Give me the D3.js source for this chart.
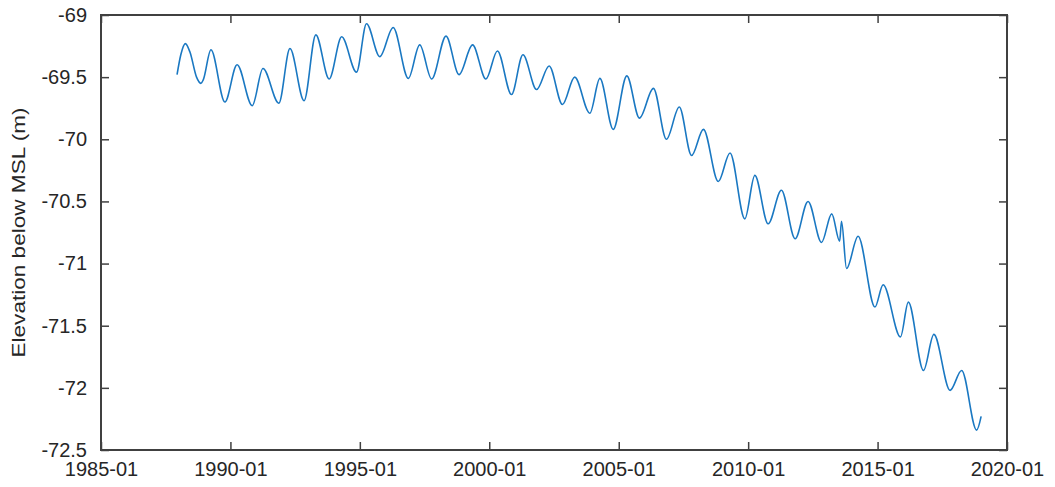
<!DOCTYPE html>
<html>
<head>
<meta charset="utf-8">
<script src="https://cdn.jsdelivr.net/npm/d3@7"></script>
<style>
  body { margin: 0; background: #fff; }
  text { font-family: "Liberation Sans", Arial, sans-serif; fill: #262626; }
</style>
</head>
<body>
<div id="chart"></div>
<script>
// monthly-ish turning points
var dates = [
  "1987-12-10", "1988-02-01", "1988-04-05", "1988-06-10", "1988-09-10", "1988-11-10", "1988-12-15",
  "1989-04-01", "1989-10-15", "1990-04-05", "1990-11-05", "1991-04-05", "1991-11-15",
  "1992-04-20", "1992-11-05", "1993-04-20", "1993-10-25", "1994-04-20", "1994-11-15",
  "1995-04-05", "1995-10-10", "1996-04-15", "1996-11-15", "1997-04-25", "1997-10-10",
  "1998-05-01", "1998-11-01", "1999-05-10", "1999-11-15", "2000-04-25", "2000-11-10",
  "2001-04-20", "2001-10-30", "2002-04-25", "2002-10-30", "2003-04-20", "2003-11-20",
  "2004-04-10", "2004-10-15", "2005-04-25", "2005-10-20", "2006-05-05", "2006-11-05",
  "2007-05-05", "2007-10-25", "2008-04-10", "2008-11-05", "2009-04-20", "2009-11-15",
  "2010-04-05", "2010-10-10", "2011-04-15", "2011-10-25", "2012-04-25", "2012-11-01",
  "2013-03-25", "2013-07-15", "2013-08-10", "2013-10-20", "2014-04-01", "2014-11-25",
  "2015-03-20", "2015-11-20", "2016-03-10", "2016-10-10", "2017-03-05", "2017-10-20",
  "2018-04-01", "2018-10-30", "2019-01-01"
];
var levels = [
  -69.48, -69.32, -69.23, -69.30, -69.50, -69.55, -69.52,
  -69.28, -69.70, -69.40, -69.73, -69.43, -69.71,
  -69.27, -69.69, -69.16, -69.515, -69.175, -69.46,
  -69.07, -69.335, -69.10, -69.51, -69.24, -69.515,
  -69.17, -69.48, -69.24, -69.515, -69.29, -69.64,
  -69.32, -69.60, -69.41, -69.72, -69.50, -69.79,
  -69.51, -69.92, -69.49, -69.83, -69.59, -70.00,
  -69.74, -70.13, -69.92, -70.34, -70.11, -70.64,
  -70.29, -70.68, -70.41, -70.80, -70.50, -70.83,
  -70.60, -70.82, -70.66, -71.04, -70.78, -71.35,
  -71.17, -71.59, -71.31, -71.86, -71.57, -72.02,
  -71.86, -72.34, -72.23
];
var xTicks = ["1985-01", "1990-01", "1995-01", "2000-01", "2005-01", "2010-01", "2015-01", "2020-01"];
var yTicks = [-69, -69.5, -70, -70.5, -71, -71.5, -72, -72.5];

var parseDay = d3.timeParse("%Y-%m-%d"),
    parseMonth = d3.timeParse("%Y-%m");

var series = dates.map(function(d, i) { return {date: parseDay(d), level: levels[i]}; });

var svg = d3.select("#chart")
            .append("svg")
            .attr("width", 1055)
            .attr("height", 487);

var margin = {top: 15, right: 48, bottom: 37, left: 101},
    width = 1055 - margin.left - margin.right,
    height = 487 - margin.top - margin.bottom,
    g = svg.append("g").attr("transform", "translate(" + margin.left + "," + margin.top + ")");

var x = d3.scaleTime()
          .domain([parseMonth("1985-01"), parseMonth("2020-01")])
          .range([0, width]);
var y = d3.scaleLinear()
          .domain([-72.5, -69])
          .range([height, 0]);

var tickDates = xTicks.map(parseMonth);
var fmtY = function(v) { return String(v).replace("-", "-"); };

// axes, MATLAB style: ticks pointing inward, box all round
var axisStyle = function(sel) {
  sel.select(".domain").remove();
  sel.selectAll("line").attr("stroke", "#404040").attr("stroke-width", 1.5);
  sel.selectAll("text").style("font-size", "20px").attr("fill", "#262626");
};

g.append("g")
  .attr("transform", "translate(0," + height + ")")
  .call(d3.axisBottom(x).tickValues(tickDates).tickSizeInner(-8).tickSizeOuter(0)
          .tickPadding(12).tickFormat(d3.timeFormat("%Y-%m")))
  .call(axisStyle);

g.append("g")
  .call(d3.axisTop(x).tickValues(tickDates).tickSizeInner(-8).tickSizeOuter(0).tickFormat(""))
  .call(axisStyle);

g.append("g")
  .call(d3.axisLeft(y).tickValues(yTicks).tickSizeInner(-8).tickSizeOuter(0)
          .tickPadding(14).tickFormat(fmtY))
  .call(axisStyle);

g.append("g")
  .attr("transform", "translate(" + width + ",0)")
  .call(d3.axisRight(y).tickValues(yTicks).tickSizeInner(-8).tickSizeOuter(0).tickFormat(""))
  .call(axisStyle);

g.append("rect")
  .attr("width", width)
  .attr("height", height)
  .attr("fill", "none")
  .attr("stroke", "#404040")
  .attr("stroke-width", 2);

var line = d3.line()
  .curve(d3.curveMonotoneX)
  .x(function(d) { return x(d.date); })
  .y(function(d) { return y(d.level); });

g.append("path")
  .datum(series)
  .attr("fill", "none")
  .attr("stroke", "#1a78c2")
  .attr("stroke-width", 1.6)
  .attr("d", line);

svg.append("text")
  .attr("transform", "translate(25," + (margin.top + height / 2) + ") rotate(-90)")
  .attr("text-anchor", "middle")
  .attr("textLength", 250)
  .attr("lengthAdjust", "spacingAndGlyphs")
  .style("font-size", "19px")
  .text("Elevation below MSL (m)");
</script>
</body>
</html>
